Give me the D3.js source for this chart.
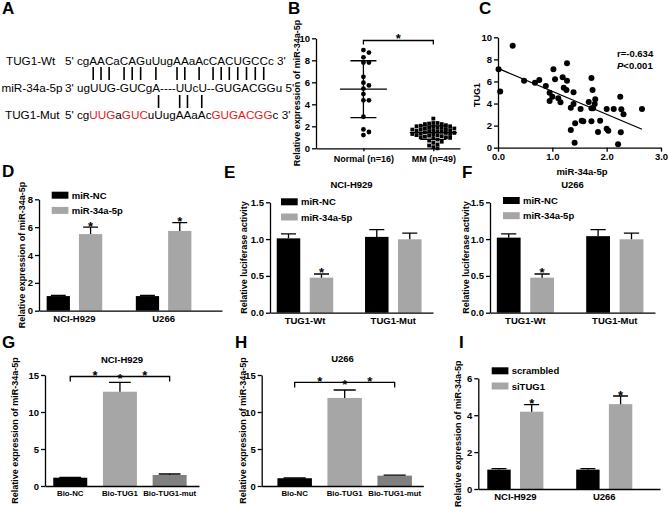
<!DOCTYPE html>
<html>
<head>
<meta charset="utf-8">
<script src="https://cdn.jsdelivr.net/npm/d3@7"></script>
<style>
  body { margin: 0; background: #fff; }
</style>
</head>
<body>
<script>
// ---- panel A : binding sites
const seqNames = ["TUG1-Wt", "miR-34a-5p", "TUG1-Mut"]
const wtSeq = "cgAACaCAGuUugAAaAcCACUGCCc"
const mirSeq = "ugUUG-GUCgA----UUcU--GUGACGGu"
const mutParts = [["cg", 0], ["UUG", 1], ["a", 0], ["GUC", 1], ["uUugAAaAc", 0], ["GUGACGG", 1], ["c", 0]]

// ---- panel B : scatter
const bCats = ["Normal (n=16)", "MM (n=49)"]
const normalVals = [8.7, 8.93, 8.27, 7.8, 7.8, 6.5, 5.96, 5.72, 5.42, 4.93, 4.36, 4.36, 2.87, 1.72, 1.48, 1.2]
const mmVals = [2.7, 2.3, 2.3, 2.25, 2.2, 2.2, 2.1, 2.05, 2.0, 2.0, 1.95, 1.9, 1.85, 1.85, 1.8, 1.8, 1.75,
  1.7, 1.7, 1.65, 1.6, 1.6, 1.55, 1.5, 1.5, 1.45, 1.4, 1.4, 1.35, 1.3, 1.3, 1.25, 1.2, 1.2, 1.15, 1.1,
  1.05, 1.0, 1.0, 0.95, 0.9, 0.8, 0.7, 0.6, 0.5, 0.35, 0.25, 0.1, 0.0]

// ---- panel C : correlation
const mirX = [0.01, 0.04, 0.27, 0.48, 0.68, 0.76, 0.88, 0.95, 0.95, 1.02, 1.0, 1.05, 1.11, 1.15, 1.19, 1.21,
  1.26, 1.27, 1.27, 1.34, 1.34, 1.39, 1.39, 1.41, 1.42, 1.52, 1.54, 1.57, 1.67, 1.72, 1.74, 1.72, 1.75,
  1.78, 1.79, 1.72, 1.84, 1.88, 2.0, 2.0, 2.03, 2.13, 2.21, 2.25, 2.26, 2.27, 2.31, 2.65]
const tugY = [7.1, 5.1, 9.24, 6.07, 5.89, 6.13, 5.59, 4.98, 4.23, 7.1, 4.62, 6.2, 4.47, 4.11, 6.38, 5.43,
  5.23, 7.64, 6.07, 3.62, 1.6, 5.02, 3.96, 0.45, 2.21, 3.5, 2.45, 2.4, 4.14, 6.32, 5.23, 3.57, 3.57,
  3.96, 4.38, 2.39, 1.42, 2.45, 3.5, 1.72, 1.54, 3.5, 0.31, 4.62, 1.4, 3.48, 3.02, 3.5]

// ---- panel D
const cellLines = ["NCI-H929", "U266"]
const dSeries = ["miR-NC", "miR-34a-5p"]
const dNC = [1.05, 1.05], dNCsd = [0.04, 0.04]
const dMiR = [5.5, 5.73], dMiRsd = [0.5, 0.6]

// ---- panels E, F : luciferase
const lucGroups = ["TUG1-Wt", "TUG1-Mut"]
const eNC = [1.01, 1.03], eNCsd = [0.06, 0.1]
const eMiR = [0.476, 0.997], eMiRsd = [0.05, 0.085]
const fNC = [1.02, 1.04], fNCsd = [0.05, 0.09]
const fMiR = [0.476, 0.997], fMiRsd = [0.05, 0.085]

// ---- panels G, H : pull-down
const bioGroups = ["Bio-NC", "Bio-TUG1", "Bio-TUG1-mut"]
const gVals = [1.12, 12.74, 1.49], gSd = [0.03, 1.26, 0.13]
const hVals = [1.05, 11.9, 1.4], hSd = [0.03, 1.07, 0.07]

// ---- panel I
const iSeries = ["scrambled", "siTUG1"]
const iScr = [1.05, 1.05], iScrSd = [0.05, 0.05]
const iSi = [4.19, 4.6], iSiSd = [0.38, 0.44]

const GRAY = "#a6a6a6", DARK = "#808080", RED = "#e3191c"

const svg = d3.select("body").append("svg")
  .attr("width", 668).attr("height", 507)
  .attr("font-family", "Arial, 'Liberation Sans', sans-serif")
  .attr("font-weight", "bold")

function styleAxis(g) {
  g.attr("font-family", null).attr("font-size", 9.5).attr("font-weight", "bold")
  g.select(".domain").attr("stroke-width", 1.3)
  g.selectAll(".tick line").attr("stroke-width", 1.3)
}
function yTitle(t, x, y) {
  svg.append("text").attr("transform", `translate(${x},${y}) rotate(-90)`)
    .attr("text-anchor", "middle").attr("dy", "0.35em").attr("font-size", 9).text(t)
}
function panelLetter(t, x, y) {
  svg.append("text").attr("x", x).attr("y", y).attr("font-size", 17).text(t)
}

// ================= A
panelLetter("A", 2, 14)
const aG = svg.append("g").attr("font-weight", "normal").attr("font-size", 11.7)
const rowY = [65, 92, 119]
seqNames.forEach((n, i) => aG.append("text").attr("x", [6, 1.5, 5][i]).attr("y", rowY[i]).text(n))
const wtT = aG.append("text").attr("x", 65).attr("y", rowY[0]).text(`5' ${wtSeq} 3'`)
aG.append("text").attr("x", 65).attr("y", rowY[1]).text(`3' ${mirSeq} 5'`)
const mutT = aG.append("text").attr("x", 65).attr("y", rowY[2])
mutT.append("tspan").text("5' ")
mutParts.forEach(([s, red]) => mutT.append("tspan").attr("fill", red ? RED : "#000").text(s))
mutT.append("tspan").text(" 3'")

const isUpper = c => c >= "A" && c <= "Z"
const mutChars = mutParts.flatMap(([s, red]) => s.split("").map(c => ({ c, red })))
const charMid = (node, i) => { const e = node.getExtentOfChar(i + 3); return e.x + e.width / 2 }
const wtPairs = d3.range(wtSeq.length).filter(i => isUpper(wtSeq[i]))
const mutPairs = d3.range(mutChars.length).filter(i => isUpper(mutChars[i].c) && !mutChars[i].red)
aG.selectAll(".pu").data(wtPairs).join("line").attr("class", "pu")
  .attr("x1", i => charMid(wtT.node(), i)).attr("x2", i => charMid(wtT.node(), i))
  .attr("y1", 67).attr("y2", 80).attr("stroke", "#000").attr("stroke-width", 1.6)
aG.selectAll(".pl").data(mutPairs).join("line").attr("class", "pl")
  .attr("x1", i => charMid(mutT.node(), i)).attr("x2", i => charMid(mutT.node(), i))
  .attr("y1", 95).attr("y2", 108).attr("stroke", "#000").attr("stroke-width", 1.6)

// ================= B
panelLetter("B", 288, 14)
{
  const y = d3.scaleLinear().domain([0, 10]).range([148.3, 38.3])
  const x = d3.scalePoint().domain(bCats).range([316, 460]).padding(0.53).align(0.64)
  const g = svg.append("g")
  g.append("g").attr("transform", "translate(316,0)")
    .call(d3.axisLeft(y).tickValues([0, 2, 4, 6, 8, 10]).tickSize(4).tickPadding(2).tickSizeOuter(0)).call(styleAxis)
  g.append("g").attr("transform", "translate(0,148.3)")
    .call(d3.axisBottom(x).tickSize(3).tickPadding(4).tickSizeOuter(0)).call(styleAxis)
    .attr("font-size", 9)
  yTitle("Relative expression of miR-34a-5p", 297, 93)

  // simple beeswarm: each point takes the nearest free column
  function swarm(vals, step, minD, square) {
    const placed = []
    const order = d3.range(vals.length).sort((a, b) => vals[b] - vals[a])
    const out = []
    order.forEach(i => {
      const py = y(vals[i])
      for (let k = 0; ; k++) {
        const dx = k === 0 ? 0 : (k % 2 ? 1 : -1) * Math.ceil(k / 2) * step
        const hit = placed.some(p => square
          ? Math.abs(p.dx - dx) < minD && Math.abs(p.py - py) < minD
          : Math.hypot(p.dx - dx, p.py - py) < minD)
        if (!hit) { placed.push({ dx, py }); out.push({ dx, py }); break }
      }
    })
    return out
  }
  const cN = x(bCats[0]), cM = x(bCats[1])
  g.selectAll(".nd").data(swarm(normalVals, 5.5, 5, false)).join("circle")
    .attr("cx", d => cN + d.dx).attr("cy", d => d.py).attr("r", 2.4).attr("fill", "#000")
  g.selectAll(".md").data(swarm(mmVals, 4.2, 3.6, true)).join("rect")
    .attr("x", d => cM + d.dx - 1.9).attr("y", d => d.py - 1.9).attr("width", 3.8).attr("height", 3.8).attr("fill", "#000")

  ;[[normalVals, cN], [mmVals, cM]].forEach(([v, c]) => {
    const m = d3.mean(v), s = d3.deviation(v)
    g.append("path")
      .attr("d", `M${c - 23.5},${y(m)}H${c + 23.5}M${c - 13},${y(m + s)}H${c + 13}M${c - 13},${y(m - s)}H${c + 13}M${c},${y(m + s)}V${y(m - s)}`)
      .attr("stroke", "#000").attr("stroke-width", 1.3).attr("fill", "none")
  })
  const by = y(9.8)
  g.append("path").attr("d", `M${cN},${by + 4}V${by}H${cM}V${by + 4}`)
    .attr("stroke", "#000").attr("stroke-width", 1.3).attr("fill", "none")
  g.append("text").attr("x", (cN + cM) / 2).attr("y", by + 2).attr("text-anchor", "middle").attr("font-size", 13).text("*")
}

// ================= C
panelLetter("C", 479, 14)
{
  const x = d3.scaleLinear().domain([0, 3]).range([498, 661])
  const y = d3.scaleLinear().domain([0, 10]).range([147.7, 37.3])
  const g = svg.append("g")
  g.append("g").attr("transform", "translate(498,0)")
    .call(d3.axisLeft(y).tickValues([0, 2, 4, 6, 8, 10]).tickSize(4).tickPadding(2).tickSizeOuter(0)).call(styleAxis)
  g.append("g").attr("transform", "translate(0,147.7)")
    .call(d3.axisBottom(x).tickValues([0, 1, 2, 3]).tickSize(4).tickPadding(2).tickSizeOuter(0)).call(styleAxis)
  yTitle("TUG1", 477, 95)
  g.append("text").attr("x", 582).attr("y", 175).attr("text-anchor", "middle").attr("font-size", 9.5).text("miR-34a-5p")

  const pts = mirX.map((v, i) => [v, tugY[i]])
  g.selectAll(".cp").data(pts).join("circle")
    .attr("cx", d => x(d[0])).attr("cy", d => y(d[1])).attr("r", 3).attr("fill", "#000")
  // least squares fit
  const mx = d3.mean(mirX), my = d3.mean(tugY)
  const slope = d3.sum(pts, d => (d[0] - mx) * (d[1] - my)) / d3.sum(pts, d => (d[0] - mx) ** 2)
  const icpt = my - slope * mx
  const x2 = d3.max(mirX)
  g.append("line").attr("x1", x(0)).attr("y1", y(icpt)).attr("x2", x(x2)).attr("y2", y(icpt + slope * x2))
    .attr("stroke", "#000").attr("stroke-width", 1.3)
  g.append("text").attr("x", 617).attr("y", 57).attr("font-size", 9.5).text("r=-0.634")
  const pt = g.append("text").attr("x", 617).attr("y", 68.5).attr("font-size", 9.5)
  pt.append("tspan").attr("font-style", "italic").text("P")
  pt.append("tspan").text("<0.001")
}

// ================= bar panels
function barPanel(o) {
  const y = d3.scaleLinear().domain([0, o.max]).range([o.y0, o.y1])
  const x = d3.scaleBand().domain(o.groups).range([o.x0, o.x1])
    .paddingInner(o.pi).paddingOuter(o.po).align(o.align)
  const xs = d3.scaleBand().domain(d3.range(o.vals.length)).range([0, x.bandwidth()]).paddingInner(o.spi || 0)
  const g = svg.append("g")
  const bars = o.vals.flatMap((arr, si) => arr.map((v, gi) => ({
    v, sd: o.sds[si][gi], star: o.stars ? o.stars[si][gi] : 0,
    x: x(o.groups[gi]) + xs(si), w: xs.bandwidth(),
    fill: o.fills[o.vals.length > 1 ? si : gi]
  })))
  g.selectAll("rect").data(bars).join("rect")
    .attr("x", d => d.x).attr("width", d => d.w)
    .attr("y", d => y(d.v)).attr("height", d => o.y0 - y(d.v)).attr("fill", d => d.fill)
  g.selectAll(".err").data(bars).join("path").attr("class", "err")
    .attr("d", d => {
      const cx = d.x + d.w / 2, t = y(d.v + d.sd), c = d.w * 0.32
      return `M${cx},${y(d.v)}V${t}M${cx - c},${t}H${cx + c}`
    })
    .attr("stroke", "#000").attr("stroke-width", 1.3).attr("fill", "none")
  g.selectAll(".star").data(bars.filter(d => d.star)).join("text").attr("class", "star")
    .attr("x", d => d.x + d.w / 2).attr("y", d => y(d.v + d.sd) + 3.5)
    .attr("text-anchor", "middle").attr("font-size", 13).text("*")

  g.append("g").attr("transform", `translate(${o.x0},0)`)
    .call(d3.axisLeft(y).tickValues(o.ticks).tickFormat(d3.format(o.fmt)).tickSize(4).tickPadding(2).tickSizeOuter(0))
    .call(styleAxis)
  g.append("g").attr("transform", `translate(0,${o.y0})`)
    .call(d3.axisBottom(x).tickSize(0).tickPadding(o.xpad).tickSizeOuter(0))
    .call(styleAxis)
    .attr("font-size", o.xfont)
  yTitle(o.ytitle, o.ytx, (o.y0 + o.y1) / 2)

  if (o.title) g.append("text").attr("x", (o.x0 + o.x1) / 2).attr("y", o.titleY)
    .attr("text-anchor", "middle").attr("font-size", 9.5).text(o.title)

  if (o.legend) o.series.forEach((s, i) => {
    g.append("rect").attr("x", o.legend[0]).attr("y", o.legend[1] + i * 15.2)
      .attr("width", 16.7).attr("height", 7).attr("fill", o.fills[i])
    g.append("text").attr("x", o.legend[0] + 20).attr("y", o.legend[1] + i * 15.2 + 7)
      .attr("font-size", 9.5).text(s)
  })

  if (o.bracket) {
    const by = y(o.bracket)
    const c = i => x(o.groups[i]) + x.bandwidth() / 2
    g.append("path").attr("d", `M${c(0)},${by + 5}V${by}H${c(2)}V${by + 5}`)
      .attr("stroke", "#000").attr("stroke-width", 1.3).attr("fill", "none")
    ;[(c(0) + c(1)) / 2, c(1), (c(1) + c(2)) / 2].forEach((sx, k) =>
      g.append("text").attr("x", sx).attr("y", by + (k === 1 ? 7 : 3.5))
        .attr("text-anchor", "middle").attr("font-size", 13).text("*"))
  }
}

panelLetter("D", 2, 177)
barPanel({
  x0: 39, x1: 222, y0: 310.7, y1: 199.3, max: 8, ticks: [0, 2, 4, 6, 8], fmt: "d",
  groups: cellLines, series: dSeries, vals: [dNC, dMiR], sds: [dNCsd, dMiRsd],
  fills: ["#000", GRAY], stars: [[0, 0], [1, 1]],
  pi: 0.377, po: 0.2145, align: 0.2, spi: 0.28, xpad: 5, xfont: 9.5,
  legend: [51.7, 191.7], ytitle: "Relative expression of miR-34a-5p", ytx: 21.7
})

panelLetter("E", 224, 178)
barPanel({
  x0: 270, x1: 433, y0: 312.7, y1: 202.3, max: 1.5, ticks: [0, 0.5, 1, 1.5], fmt: ".1f",
  groups: lucGroups, series: dSeries, vals: [eNC, eMiR], sds: [eNCsd, eMiRsd],
  fills: ["#000", GRAY], stars: [[0, 0], [1, 0]],
  pi: 0.36, po: 0.103, align: 0.37, spi: 0.288, xpad: 5, xfont: 9.5,
  legend: [281, 198.3], title: "NCI-H929", titleY: 188,
  ytitle: "Relative luciferase activity", ytx: 243.5
})

panelLetter("F", 462, 178)
barPanel({
  x0: 490, x1: 655, y0: 312.7, y1: 202.3, max: 1.5, ticks: [0, 0.5, 1, 1.5], fmt: ".1f",
  groups: lucGroups, series: dSeries, vals: [fNC, fMiR], sds: [fNCsd, fMiRsd],
  fills: ["#000", GRAY], stars: [[0, 0], [1, 0]],
  pi: 0.36, po: 0.103, align: 0.37, spi: 0.288, xpad: 5, xfont: 9.5,
  legend: [503, 197], title: "U266", titleY: 188,
  ytitle: "Relative luciferase activity", ytx: 466
})

panelLetter("G", 2, 348)
barPanel({
  x0: 45, x1: 199, y0: 486, y1: 375, max: 15, ticks: [0, 5, 10, 15], fmt: "d",
  groups: bioGroups, series: [""], vals: [gVals], sds: [gSd],
  fills: ["#000", GRAY, DARK],
  pi: 0.316, po: 0.2075, align: 0.4, xpad: 4, xfont: 7.8,
  bracket: 14.8, title: "NCI-H929", titleY: 362.5,
  ytitle: "Relative expression of miR-34a-5p", ytx: 15
})

panelLetter("H", 235, 348)
barPanel({
  x0: 261.7, x1: 423.3, y0: 486, y1: 375, max: 15, ticks: [0, 5, 10, 15], fmt: "d",
  groups: bioGroups, series: [""], vals: [hVals], sds: [hSd],
  fills: ["#000", GRAY, DARK],
  pi: 0.31, po: 0.271, align: 0.58, xpad: 4, xfont: 7.8,
  bracket: 14.0, title: "U266", titleY: 362,
  ytitle: "Relative expression of miR-34a-5p", ytx: 243
})

panelLetter("I", 459, 348)
barPanel({
  x0: 478.3, x1: 660, y0: 489, y1: 378.3, max: 6, ticks: [0, 2, 4, 6], fmt: "d",
  groups: cellLines, series: iSeries, vals: [iScr, iSi], sds: [iScrSd, iSiSd],
  fills: ["#000", GRAY], stars: [[0, 0], [1, 1]],
  pi: 0.369, po: 0.2065, align: 0.245, spi: 0.284, xpad: 4, xfont: 9.5,
  legend: [491.7, 367.3], ytitle: "Relative expression of miR-34a-5p", ytx: 457.5
})
</script>
</body>
</html>
